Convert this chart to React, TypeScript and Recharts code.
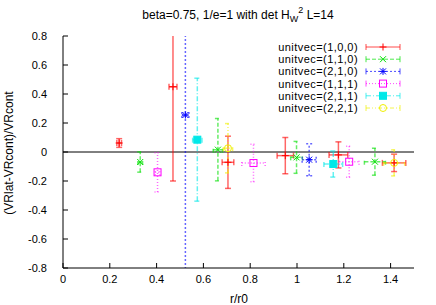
import React from "react";
import { ScatterChart, Scatter, XAxis, YAxis, ErrorBar, ReferenceLine, Customized } from "recharts";

const FONT = '"Liberation Sans", Arial, Helvetica, sans-serif';

const xTicks = [0, 0.2, 0.4, 0.6, 0.8, 1, 1.2, 1.4];
const yTicks = [-0.8, -0.6, -0.4, -0.2, 0, 0.2, 0.4, 0.6, 0.8];

// each point: r/r0, value, x error, y error
const s100 = [
  { x: 0.24, y: 0.062, ex: 0.01, ey: 0.03 },
  { x: 0.47, y: 0.45, ex: 0.017, ey: 0.65 },
  { x: 0.705, y: -0.071, ex: 0.025, ey: 0.18 },
  { x: 0.95, y: -0.025, ex: 0.035, ey: 0.125 },
  { x: 1.177, y: -0.02, ex: 0.04, ey: 0.09 },
  { x: 1.415, y: -0.075, ex: 0.05, ey: 0.06 },
];
const s110 = [
  { x: 0.33, y: -0.069, ex: 0.01, ey: 0.07 },
  { x: 0.662, y: 0.016, ex: 0.02, ey: 0.215 },
  { x: 0.998, y: -0.037, ex: 0.025, ey: 0.11 },
  { x: 1.333, y: -0.067, ex: 0.045, ey: 0.093 },
];
const s210 = [
  { x: 0.523, y: 0.255, ex: 0.015, ey: 1.2 },
  { x: 1.052, y: -0.053, ex: 0.03, ey: 0.11 },
];
const s111 = [
  { x: 0.404, y: -0.14, ex: 0.01, ey: 0.135 },
  { x: 0.814, y: -0.076, ex: 0.05, ey: 0.13 },
  { x: 1.223, y: -0.067, ex: 0.042, ey: 0.107 },
];
const s211 = [
  { x: 0.574, y: 0.085, ex: 0.02, ey: 0.424 },
  { x: 1.155, y: -0.083, ex: 0.04, ey: 0.09 },
];
const s221 = [
  { x: 0.705, y: 0.026, ex: 0.02, ey: 0.17 },
  { x: 1.415, y: -0.075, ex: 0.045, ey: 0.09 },
];

type Kind = "plus" | "cross" | "star" | "box" | "fbox" | "circle";

const series: { name: string; data: typeof s100; color: string; dash?: string; kind: Kind }[] = [
  { name: "unitvec=(1,0,0)", data: s100, color: "#ff0000", kind: "plus" },
  { name: "unitvec=(1,1,0)", data: s110, color: "#00e000", dash: "4 2", kind: "cross" },
  { name: "unitvec=(2,1,0)", data: s210, color: "#0000ff", dash: "2 2", kind: "star" },
  { name: "unitvec=(1,1,1)", data: s111, color: "#ff00ff", dash: "1 2", kind: "box" },
  { name: "unitvec=(2,1,1)", data: s211, color: "#00e8e8", dash: "5 2 1 2", kind: "fbox" },
  { name: "unitvec=(2,2,1)", data: s221, color: "#f0f000", dash: "4 2 1 2 1 2", kind: "circle" },
];

function Marker({ cx, cy, kind, color }: { cx: number; cy: number; kind: Kind; color: string }) {
  const r = 3.5;
  if (kind === "plus")
    return <path d={`M${cx - r},${cy}H${cx + r}M${cx},${cy - r}V${cy + r}`} stroke={color} fill="none" />;
  if (kind === "cross")
    return <path d={`M${cx - 3},${cy - 3}L${cx + 3},${cy + 3}M${cx - 3},${cy + 3}L${cx + 3},${cy - 3}`} stroke={color} fill="none" />;
  if (kind === "star")
    return (
      <path
        d={`M${cx - r},${cy}H${cx + r}M${cx},${cy - r}V${cy + r}M${cx - 3},${cy - 3}L${cx + 3},${cy + 3}M${cx - 3},${cy + 3}L${cx + 3},${cy - 3}`}
        stroke={color}
        fill="none"
      />
    );
  if (kind === "box") return <rect x={cx - r} y={cy - r} width={2 * r} height={2 * r} stroke={color} fill="none" />;
  if (kind === "fbox") return <rect x={cx - r} y={cy - r} width={2 * r} height={2 * r} stroke={color} fill={color} />;
  return <circle cx={cx} cy={cy} r={r} stroke={color} fill="none" />;
}

function Title() {
  return (
    <g fontFamily={FONT} fontSize={12} fill="#000">
      <defs>
        <clipPath id="plotclip">
          <rect x={63} y={36} width={351} height={232} />
        </clipPath>
      </defs>
      <style>{`.recharts-errorBar { clip-path: url(#plotclip); }`}</style>
      <text x={238} y={19} textAnchor="middle">
        beta=0.75, 1/e=1 with det H
        <tspan fontSize={9} dy={3}>W</tspan>
        <tspan fontSize={9} dy={-9}>2</tspan>
        <tspan dy={6}> L=14</tspan>
      </text>
      <text x={239} y={303} textAnchor="middle">r/r0</text>
      <text transform="translate(13,153) rotate(-90)" textAnchor="middle">(VRlat-VRcont)/VRcont</text>
    </g>
  );
}

function LegendBox() {
  return (
    <g fontFamily={FONT} fontSize={11}>
      {series.map((s, i) => {
        const y = 47 + i * 12.2;
        return (
          <g key={s.name}>
            <text x={358} y={y + 4} textAnchor="end" fill="#000" letterSpacing={0.45}>{s.name}</text>
            <g strokeOpacity={0.7}>
              <line x1={366} x2={400} y1={y} y2={y} stroke={s.color} strokeDasharray={s.dash} />
              <line x1={366} x2={366} y1={y - 3} y2={y + 3} stroke={s.color} />
              <line x1={400} x2={400} y1={y - 3} y2={y + 3} stroke={s.color} />
            </g>
            <Marker cx={383} cy={y} kind={s.kind} color={s.color} />
          </g>
        );
      })}
    </g>
  );
}

export default function App() {
  const tickStyle = { fill: "#000", fontSize: 11, fontFamily: FONT };
  return (
    <div style={{ position: "absolute", left: 0, top: 0, background: "#fff" }}>
      <ScatterChart width={436} height={305} margin={{ top: 36, right: 22, bottom: 0, left: 0 }}>
        <XAxis
          type="number"
          dataKey="x"
          domain={[0, 1.5]}
          ticks={xTicks}
          allowDataOverflow
          height={37}
          tickSize={-5}
          tickMargin={12}
          tick={tickStyle}
          stroke="#000"
        />
        <XAxis xAxisId="top" orientation="top" type="number" domain={[0, 1.5]} ticks={xTicks} height={0} tickSize={-5} tick={false} stroke="#000" allowDataOverflow />
        <YAxis
          type="number"
          dataKey="y"
          domain={[-0.8, 0.8]}
          ticks={yTicks}
          allowDataOverflow
          width={63}
          tickSize={-5}
          tickMargin={21}
          tick={tickStyle}
          stroke="#000"
        />
        <YAxis yAxisId="right" orientation="right" type="number" domain={[-0.8, 0.8]} ticks={yTicks} width={0} tickSize={-5} tick={false} stroke="#000" allowDataOverflow />
        <ReferenceLine y={0} stroke="#000" />
        {series.map((s) => (
          <Scatter
            key={s.name}
            name={s.name}
            data={s.data}
            isAnimationActive={false}
            shape={(p: any) => <Marker cx={p.cx} cy={p.cy} kind={s.kind} color={s.color} />}
          >
            <ErrorBar dataKey="ey" direction="y" width={3} stroke={s.color} strokeOpacity={0.6} strokeDasharray={s.dash} clipPath="url(#plotclip)" isAnimationActive={false} />
            <ErrorBar dataKey="ex" direction="x" width={3} stroke={s.color} strokeOpacity={0.6} strokeDasharray={s.dash} clipPath="url(#plotclip)" isAnimationActive={false} />
          </Scatter>
        ))}
        <Customized component={Title} />
        <Customized component={LegendBox} />
      </ScatterChart>
    </div>
  );
}
